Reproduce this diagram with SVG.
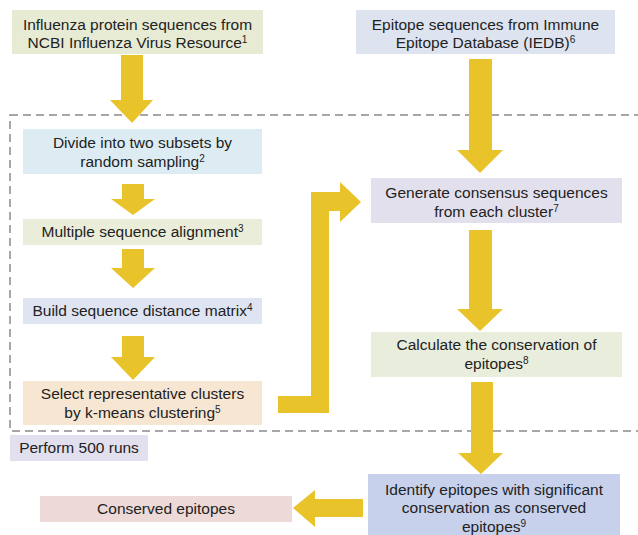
<svg xmlns="http://www.w3.org/2000/svg" width="638" height="535" viewBox="0 0 638 535">
<style>
text{font-family:"Liberation Sans",Arial,sans-serif;font-size:15.5px;fill:#222;text-anchor:middle}
.sup{font-size:10px}
.arrow{fill:#e8c42a}
</style>
<rect width="638" height="535" fill="#fff"/>
<rect x="10" y="115" width="640" height="316" fill="none" stroke="#8a8a8a" stroke-width="1.5" stroke-dasharray="8,5"/>
<g id="connectors">
<polygon class="arrow" points="121,55 143,55 143,100 153,100 132,123 110,100 121,100"/>
<polygon class="arrow" points="122,184 144,184 144,199 155,199 133,215 111,199 122,199"/>
<polygon class="arrow" points="122,249 144,249 144,268 155,268 133,288 111,268 122,268"/>
<polygon class="arrow" points="122,336 144,336 144,357 155,357 133,380 111,357 122,357"/>
<polygon class="arrow" points="278,396 311,396 311,192 340,192 340,182 361,202 340,222 340,211 329,211 329,413 278,413"/>
<polygon class="arrow" points="469,59 492,59 492,150 503,150 480,173 457,150 469,150"/>
<polygon class="arrow" points="469,230 492,230 492,309 503,309 480,331 457,309 469,309"/>
<polygon class="arrow" points="471,382 493,382 493,453 503,453 481,474 458,453 471,453"/>
<polygon class="arrow" points="363,499 363,517 315,517 315,527 293,508 315,490 315,499"/>
</g>
<g id="n1"><rect x="12" y="10" width="251" height="44" fill="#e7ebd4"/>
<text x="137.5" y="30">Influenza protein sequences from</text>
<text x="137.5" y="48">NCBI Influenza Virus Resource<tspan class="sup" dy="-5">1</tspan></text></g>
<g id="n6"><rect x="356" y="10" width="259" height="44" fill="#dde3ef"/>
<text x="485.5" y="30">Epitope sequences from Immune</text>
<text x="485.5" y="48">Epitope Database (IEDB)<tspan class="sup" dy="-5">6</tspan></text></g>
<g id="n2"><rect x="23" y="129" width="239" height="45" fill="#ddecf3"/>
<text x="142.5" y="148">Divide into two subsets by</text>
<text x="142.5" y="167">random sampling<tspan class="sup" dy="-5">2</tspan></text></g>
<g id="n3"><rect x="23" y="219" width="239" height="26" fill="#e9edd9"/>
<text x="142.5" y="237">Multiple sequence alignment<tspan class="sup" dy="-5">3</tspan></text></g>
<g id="n4"><rect x="23" y="298" width="239" height="26" fill="#dfe4f2"/>
<text x="142.5" y="316">Build sequence distance matrix<tspan class="sup" dy="-5">4</tspan></text></g>
<g id="n5"><rect x="23" y="381" width="239" height="44" fill="#f7e6d2"/>
<text x="142.5" y="399">Select representative clusters</text>
<text x="142.5" y="418">by k-means clustering<tspan class="sup" dy="-5">5</tspan></text></g>
<g id="runs"><rect x="10" y="435" width="138" height="26" fill="#e2dfee"/>
<text x="79" y="453">Perform 500 runs</text></g>
<g id="n7"><rect x="371" y="178" width="251" height="45" fill="#e3e0ee"/>
<text x="496.5" y="198">Generate consensus sequences</text>
<text x="496.5" y="217">from each cluster<tspan class="sup" dy="-5">7</tspan></text></g>
<g id="n8"><rect x="371" y="332" width="251" height="45" fill="#e9eddb"/>
<text x="496.5" y="350">Calculate the conservation of</text>
<text x="496.5" y="369">epitopes<tspan class="sup" dy="-5">8</tspan></text></g>
<g id="n9"><rect x="368" y="474" width="252" height="62" fill="#c7d1ec"/>
<text x="494" y="495">Identify epitopes with significant</text>
<text x="494" y="513">conservation as conserved</text>
<text x="494" y="532">epitopes<tspan class="sup" dy="-5">9</tspan></text></g>
<g id="out"><rect x="40" y="496" width="252" height="26" fill="#ecd9d8"/>
<text x="166" y="514">Conserved epitopes</text></g>
</svg>
